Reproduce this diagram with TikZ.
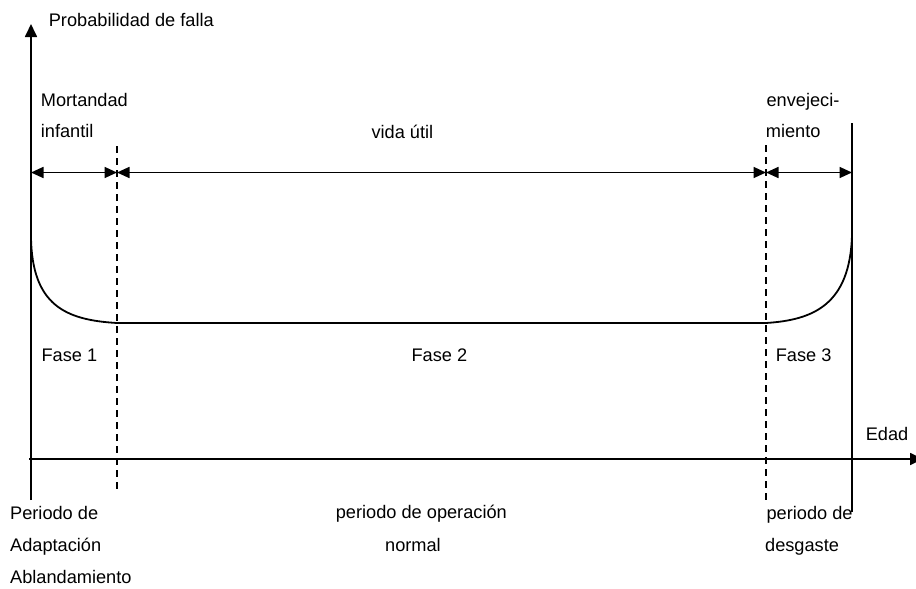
\documentclass[tikz,border=0pt]{standalone}
\usepackage{fontspec}
\setmainfont{Liberation Sans}
\usetikzlibrary{arrows.meta}
\begin{document}
\begin{tikzpicture}[x=1pt,y=-1pt,
  line width=1.7pt,
  lbl/.style={anchor=base west,inner sep=0pt,font=\fontsize{18.2}{20}\selectfont},
  axisline/.style={-{Triangle[length=13pt,width=12pt]}},
  span/.style={{Triangle[length=12.5pt,width=11pt]}-{Triangle[length=12.5pt,width=11pt]}},
  phase/.style={dash pattern=on 7pt off 5pt},
  curve/.style={line width=1.8pt}]
\useasboundingbox (0,0) rectangle (916,589);

% axes
\coordinate (yb) at (31,500);
\coordinate (yt) at (31,24);
\coordinate (xl) at (29,459);
\coordinate (xr) at (923,459);
\draw[axisline] (yb) -- (yt);
\draw[axisline] (xl) -- (xr);

% phase boundaries
\coordinate (d1t) at (117,146);
\coordinate (d1b) at (117,492);
\coordinate (d2t) at (766,145);
\coordinate (d2b) at (766,500);
\coordinate (r1t) at (852,123);
\coordinate (r1b) at (852,512);
\draw[phase] (d1t) -- (d1b);
\draw[phase] (d2t) -- (d2b);
\draw (r1t) -- (r1b);

% phase spans
\coordinate (a0) at (31,172.5);
\coordinate (a1) at (117,172.5);
\coordinate (a2) at (766,172.5);
\coordinate (a3) at (852,172.5);
\draw[span] (a0) -- (a1);
\draw[span] (a1) -- (a2);
\draw[span] (a2) -- (a3);

% bathtub curve
\coordinate (c0) at (31,237);
\coordinate (c1) at (117,323);
\coordinate (c2) at (766,323);
\coordinate (c3) at (852,235);
\draw[curve] (c0) .. controls (32,305) and (65,320) .. (c1) -- (c2)
  .. controls (813,320) and (850,305) .. (c3);

% labels
\node[lbl] (ylab) at (48,26.7) {Probabilidad de falla};
\node[lbl] (mort) at (40,106) {Mortandad};
\node[lbl] (inf) at (40,137.7) {infantil};
\node[lbl] (vida) at (370.7,138.3) {vida útil};
\node[lbl] (env) at (765.7,106) {envejeci-};
\node[lbl] (mie) at (765,137.7) {miento};
\node[lbl] (f1) at (40.7,361) {Fase 1};
\node[lbl] (f2) at (410.7,361) {Fase 2};
\node[lbl] (f3) at (775,361) {Fase 3};
\node[lbl] (edad) at (865,440.7) {Edad};
\node[lbl] (p1a) at (9.3,519) {Periodo de};
\node[lbl] (p1b) at (9.3,551.7) {Adaptación};
\node[lbl] (p1c) at (9.3,583.3) {Ablandamiento};
\node[lbl] (p2a) at (335,518.5) {periodo de operación};
\node[lbl] (p2b) at (384.3,551.7) {normal};
\node[lbl] (p3a) at (765.7,519) {periodo de};
\node[lbl] (p3b) at (764.3,551.7) {desgaste};
\end{tikzpicture}
\end{document}
